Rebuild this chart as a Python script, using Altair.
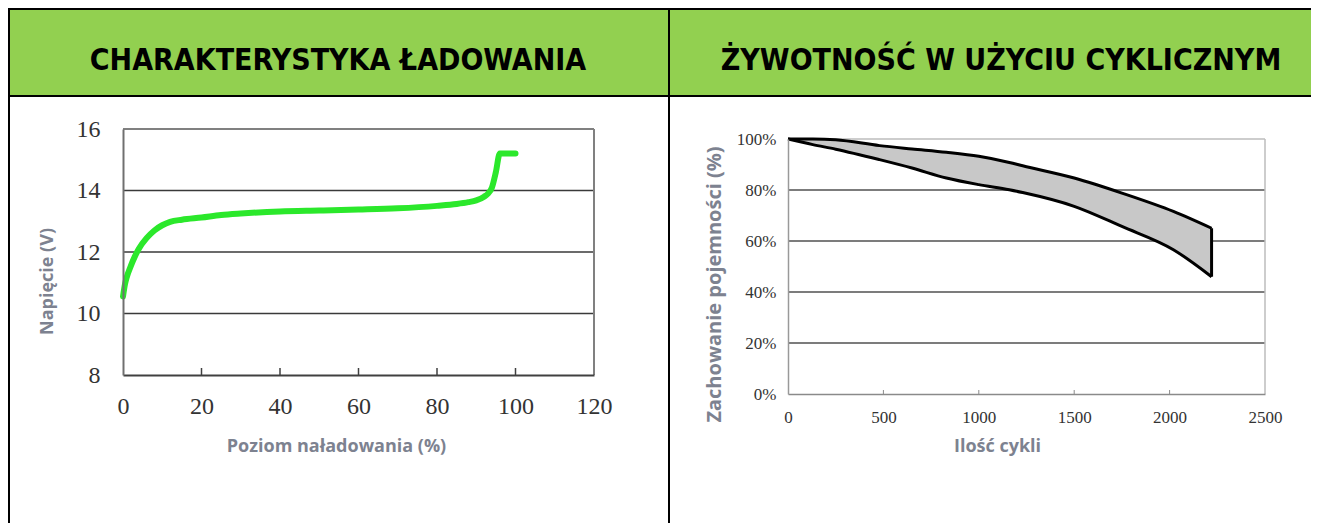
import altair as alt
import pandas as pd

# ---------------- data ----------------
TITLE_LEFT = "CHARAKTERYSTYKA ŁADOWANIA"
TITLE_RIGHT = "ŻYWOTNOŚĆ W UŻYCIU CYKLICZNYM"

X_TITLE_LEFT = "Poziom naładowania (%)"
Y_TITLE_LEFT = "Napięcie (V)"
X_TITLE_RIGHT = "Ilość cykli"
Y_TITLE_RIGHT = "Zachowanie pojemności (%)"

# charge characteristic
charge_pct = [0, 0.5, 1, 2, 3, 4, 6, 8, 10, 12, 15, 20, 25, 30, 40, 50, 60,
              70, 80, 85, 88, 90, 92, 93, 94, 95, 96, 97, 100]
voltage = [10.55, 10.95, 11.2, 11.55, 11.85, 12.1, 12.45, 12.7, 12.87, 12.98,
           13.05, 13.12, 13.2, 13.25, 13.32, 13.35, 13.38, 13.42, 13.5, 13.56,
           13.62, 13.68, 13.8, 13.9, 14.1, 14.6, 15.2, 15.2, 15.2]
left_x_ticks = [0, 20, 40, 60, 80, 100, 120]
left_y_ticks = [8, 10, 12, 14, 16]
left_grid = [10, 12, 14]
left_inner_ticks = [20, 40, 60, 80, 100]

# cycle life band
cycles = [0, 130, 250, 480, 650, 830, 1000, 1160, 1230, 1500, 1750, 2020, 2220]
cap_upper = [100, 100, 99.7, 97.4, 96.1, 94.8, 93.2, 90.8, 89.5, 84.7, 78.8, 71.6, 65.0]
cap_lower = [100, 97.8, 96.0, 91.9, 88.6, 84.7, 82.1, 80.1, 79.0, 73.6, 65.7, 56.6, 46.0]
right_x_ticks = [0, 500, 1000, 1500, 2000, 2500]
right_y_ticks = [0, 20, 40, 60, 80, 100]
right_grid = [20, 40, 60, 80]
right_inner_ticks = [500, 1000, 1500, 2000]

# ---------------- style ----------------
GREEN = "#92D050"
LINE_GREEN = "#2BE82B"
TITLE_COLOR = "#7d8290"
HEAD_FONT = "DejaVu Sans Condensed, DejaVu Sans"
TICK_FONT = "Liberation Serif"
AX_FONT = "Open Sans"

W1, H1 = 471, 246
W2, H2 = 477, 265      # right plot group starts at same top as left one
R2_TOP = 10            # y pixel of 100% inside the right group

one = pd.DataFrame({"k": [0]})


def rect(x, x2, y, y2, color):
    return alt.Chart(one).mark_rect(color=color, strokeWidth=0).encode(
        x=alt.value(x), x2=alt.value(x2), y=alt.value(y), y2=alt.value(y2))


def head_text(text, x, y):
    return alt.Chart(one).mark_text(
        font=HEAD_FONT, fontWeight="bold", fontSize=30, color="#000000",
        align="center", baseline="middle").encode(
        x=alt.value(x), y=alt.value(y), text=alt.value(text))


# ---------------- left panel ----------------
SX1 = alt.Scale(domain=[0, 120], nice=False, zero=False)
SY1 = alt.Scale(domain=[8, 16], nice=False, zero=False)

AX1 = alt.Axis(values=left_x_ticks, ticks=False, tickSize=0, grid=False,
               domainColor="#404040", domainWidth=2,
               labelFont=TICK_FONT, labelFontSize=24, labelColor="#333333",
               labelPadding=19, labelFlush=False, labelOverlap=False,
               title=X_TITLE_LEFT, titleFont=AX_FONT, titleFontSize=18,
               titleFontWeight="bold", titleColor=TITLE_COLOR,
               titleX=213, titleY=71, titleAlign="center",
               titleBaseline="middle", zindex=1)
AY1 = alt.Axis(values=left_y_ticks, ticks=False, tickSize=0, grid=False,
               domainColor="#707070", domainWidth=2,
               labelFont=TICK_FONT, labelFontSize=24, labelColor="#333333",
               labelPadding=23, labelOverlap=False,
               title=Y_TITLE_LEFT, titleFont=AX_FONT, titleFontSize=18,
               titleFontWeight="bold", titleColor=TITLE_COLOR,
               titleX=-76, titleY=152, titleAngle=270, titleAlign="center",
               titleBaseline="middle", zindex=1)


def X1():
    return alt.X("charge:Q", scale=SX1, axis=AX1)


def Y1():
    return alt.Y("voltage:Q", scale=SY1, axis=AY1)


df_charge = pd.DataFrame({"charge": charge_pct, "voltage": voltage})

left = alt.layer(
    rect(-115, 545, -121, -119, "#000000"),          # top border
    rect(-115, 545, -119, -34, GREEN),               # header fill
    rect(-115, 545, -34, -32, "#000000"),            # header bottom line
    rect(-115, -113, -121, 394, "#000000"),          # left outer border
    head_text(TITLE_LEFT, 215, -68),
    alt.Chart(pd.DataFrame({"voltage": left_grid})).mark_rule(
        color="#3a3a3a", strokeWidth=1.6).encode(
        y=Y1(), x=alt.datum(0), x2=alt.datum(120)),
    alt.Chart(one).mark_rule(color="#808080", strokeWidth=2).encode(
        y=alt.datum(16), x=alt.datum(0), x2=alt.datum(120)),
    alt.Chart(one).mark_rule(color="#808080", strokeWidth=2).encode(
        x=alt.datum(120), y=alt.datum(8), y2=alt.datum(16)),
    alt.Chart(pd.DataFrame({"charge": left_inner_ticks})).mark_rule(
        color="#404040", strokeWidth=1.5).encode(
        x=X1(), y=alt.value(H1), y2=alt.value(H1 - 7)),
    alt.Chart(df_charge).mark_line(
        color=LINE_GREEN, strokeWidth=6, interpolate="monotone",
        strokeCap="round", strokeJoin="round").encode(x=X1(), y=Y1()),
).properties(width=W1, height=H1)

# ---------------- right panel ----------------
SX2 = alt.Scale(domain=[0, 2500], nice=False, zero=False)
SY2 = alt.Scale(domain=[0, 100], range=[H2, R2_TOP], nice=False, zero=False)

AX2 = alt.Axis(values=right_x_ticks, ticks=False, tickSize=0, grid=False,
               format="d",
               domainColor="#8a8a8a", domainWidth=1.5,
               labelFont=TICK_FONT, labelFontSize=17, labelColor="#333333",
               labelPadding=15, labelFlush=False, labelOverlap=False,
               title=X_TITLE_RIGHT, titleFont=AX_FONT, titleFontSize=18,
               titleFontWeight="bold", titleColor=TITLE_COLOR,
               titleX=209, titleY=52, titleAlign="center",
               titleBaseline="middle", zindex=1)
AY2 = alt.Axis(values=right_y_ticks, ticks=False, tickSize=0, grid=False,
               domainColor="#999999", domainWidth=1.5,
               labelFont=TICK_FONT, labelFontSize=17, labelColor="#333333",
               labelPadding=12, labelOverlap=False,
               labelExpr="datum.value + '%'",
               title=Y_TITLE_RIGHT, titleFont=AX_FONT, titleFontSize=20,
               titleFontWeight="bold", titleColor=TITLE_COLOR,
               titleX=-74, titleY=155, titleAngle=270, titleAlign="center",
               titleBaseline="middle", zindex=1)


def X2():
    return alt.X("cycles:Q", scale=SX2, axis=AX2)


def Y2(field):
    return alt.Y(field + ":Q", scale=SY2, axis=AY2)


df_band = pd.DataFrame({"cycles": cycles, "upper": cap_upper, "lower": cap_lower})
df_end = pd.DataFrame({"cycles": [cycles[-1]], "upper": [cap_upper[-1]],
                       "lower": [cap_lower[-1]]})

right = alt.layer(
    rect(-120, 523, -121, -119, "#000000"),          # top border
    rect(-120, 523, -119, -34, GREEN),               # header fill
    rect(-120, 523, -34, -32, "#000000"),            # header bottom line
    rect(-120, -118, -121, 394, "#000000"),          # divider
    head_text(TITLE_RIGHT, 213, -68),
    alt.Chart(pd.DataFrame({"upper": right_grid})).mark_rule(
        color="#505050", strokeWidth=1.5).encode(
        y=Y2("upper"), x=alt.datum(0), x2=alt.datum(2500)),
    alt.Chart(one).mark_rule(color="#bdbdbd", strokeWidth=1.5).encode(
        y=alt.datum(100), x=alt.datum(0), x2=alt.datum(2500)),
    alt.Chart(one).mark_rule(color="#bdbdbd", strokeWidth=1.5).encode(
        x=alt.datum(2500), y=alt.datum(0), y2=alt.datum(100)),
    alt.Chart(pd.DataFrame({"cycles": right_inner_ticks})).mark_rule(
        color="#8a8a8a", strokeWidth=1).encode(
        x=X2(), y=alt.value(H2), y2=alt.value(H2 - 4)),
    alt.Chart(df_band).mark_area(color="#C8C8C8", interpolate="monotone").encode(
        x=X2(), y=Y2("upper"), y2="lower:Q"),
    alt.Chart(df_band).mark_line(color="#000000", strokeWidth=3,
                                 interpolate="monotone").encode(
        x=X2(), y=Y2("upper")),
    alt.Chart(df_band).mark_line(color="#000000", strokeWidth=3,
                                 interpolate="monotone").encode(
        x=X2(), y=Y2("lower")),
    alt.Chart(df_end).mark_rule(color="#000000", strokeWidth=3).encode(
        x=X2(), y=Y2("upper"), y2="lower:Q"),
).properties(width=W2, height=H2)

chart = alt.hconcat(left, right, spacing=0).properties(
    padding=0, background="#ffffff"
).configure_view(strokeWidth=0)

chart.save("out.html", embed_options={"renderer": "svg", "actions": False})
